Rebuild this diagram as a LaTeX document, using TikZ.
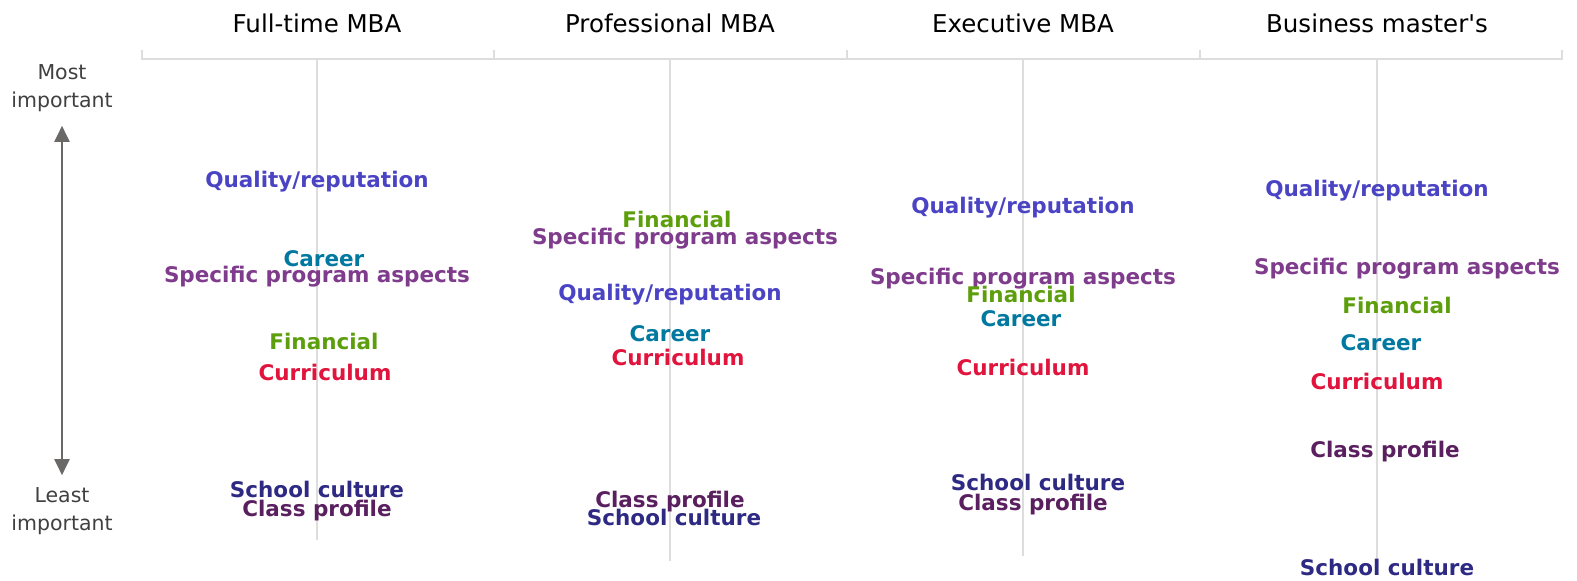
\documentclass[tikz,border=0pt]{standalone}
\usepackage{fontspec}
\setmainfont{DejaVu Sans}
\usetikzlibrary{arrows.meta}
\definecolor{quality}{HTML}{4A44C4}
\definecolor{career}{HTML}{0078A0}
\definecolor{specific}{HTML}{7F3B8C}
\definecolor{financial}{HTML}{5C9E0C}
\definecolor{curriculum}{HTML}{E0143C}
\definecolor{culture}{HTML}{2E2A84}
\definecolor{profile}{HTML}{5A1F5E}
\definecolor{rule}{HTML}{DDDDDD}
\definecolor{axis}{HTML}{6B6868}
\begin{document}
\begin{tikzpicture}[x=1bp,y=-1bp,
    lab/.style={anchor=base,inner sep=0pt,font=\fontsize{21.5bp}{21.5bp}\selectfont\bfseries},
    head/.style={anchor=base,inner sep=0pt,font=\fontsize{24.5bp}{24.5bp}\selectfont},
    side/.style={align=center,inner sep=0pt,text=black!75,font=\fontsize{20.5bp}{28bp}\selectfont},
    rule/.style={draw=rule,line width=1.5bp}]
    \useasboundingbox (0,0) rectangle (1577,581);
    %\draw[help lines] (0,0) grid[step=50] (1577,581);
    % headers
    \node[head] (h1) at (317,33) {Full-time MBA};
    \node[head] (h2) at (670,33) {Professional MBA};
    \node[head] (h3) at (1023,33) {Executive MBA};
    \node[head] (h4) at (1377,33) {Business master\textquotesingle s};
    \draw[rule] (142,50) -- (142,59) -- (1562,59) -- (1562,50);
    \foreach \x in {494,847,1200}
        \draw[rule] (\x,50) -- (\x,59);
    \draw[rule] (317,59) -- (317,540);
    \draw[rule] (670,59) -- (670,561);
    \draw[rule] (1023,59) -- (1023,556);
    \draw[rule] (1377,59) -- (1377,562);
    % importance axis
    \node[side] (most) at (62,88) {Most\\important};
    \node[side] (least) at (62,511) {Least\\important};
    \draw[axis,line width=2bp,{Triangle[width=15bp,length=16bp]}-{Triangle[width=15bp,length=16bp]}]
        (most.south) ++(0,14) coordinate (mt) (least.north) ++(0,-12) coordinate (lt) (mt) -- (lt);
    % Full-time MBA
    \node[lab,text=quality] (q1) at (317,188) {Quality/reputation};
    \node[lab,text=career] (c1) at (324,266) {Career};
    \node[lab,text=specific] (s1) at (317,282) {Specific program aspects};
    \node[lab,text=financial] (f1) at (324,349) {Financial};
    \node[lab,text=curriculum] (cu1) at (325,380) {Curriculum};
    \node[lab,text=culture] (sc1) at (317,497) {School culture};
    \node[lab,text=profile] (cp1) at (317,516) {Class profile};
    % Professional MBA
    \node[lab,text=financial] (f2) at (677,228) {Financial};
    \node[lab,text=specific] (s2) at (685,244) {Specific program aspects};
    \node[lab,text=quality] (q2) at (670,300) {Quality/reputation};
    \node[lab,text=career] (c2) at (670,341) {Career};
    \node[lab,text=curriculum] (cu2) at (678,365) {Curriculum};
    \node[lab,text=profile] (cp2) at (670,507) {Class profile};
    \node[lab,text=culture] (sc2) at (674,525) {School culture};
    % Executive MBA
    \node[lab,text=quality] (q3) at (1023,214) {Quality/reputation};
    \node[lab,text=specific] (s3) at (1023,284) {Specific program aspects};
    \node[lab,text=financial] (f3) at (1021,302) {Financial};
    \node[lab,text=career] (c3) at (1021,326) {Career};
    \node[lab,text=curriculum] (cu3) at (1023,375) {Curriculum};
    \node[lab,text=culture] (sc3) at (1038,490) {School culture};
    \node[lab,text=profile] (cp3) at (1033,510) {Class profile};
    % Business master's
    \node[lab,text=quality] (q4) at (1377,197) {Quality/reputation};
    \node[lab,text=specific] (s4) at (1407,274) {Specific program aspects};
    \node[lab,text=financial] (f4) at (1397,313) {Financial};
    \node[lab,text=career] (c4) at (1381,350) {Career};
    \node[lab,text=curriculum] (cu4) at (1377,389) {Curriculum};
    \node[lab,text=profile] (cp4) at (1385,457) {Class profile};
    \node[lab,text=culture] (sc4) at (1387,575) {School culture};
\end{tikzpicture}
\end{document}
